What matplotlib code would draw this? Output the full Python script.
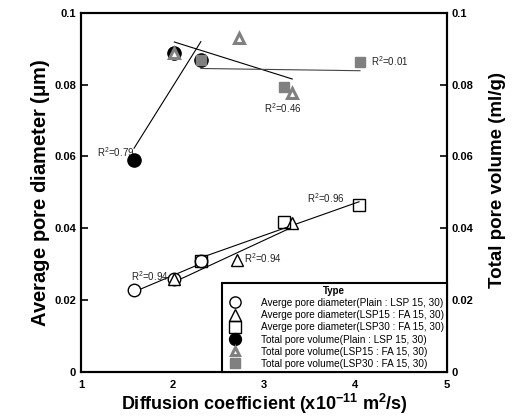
import numpy as np
import matplotlib.pyplot as plt

plt.rcParams['font.family'] = ['Liberation Sans', 'DejaVu Sans']

# diffusion coefficient (x10^-11 m2/s) and pore data
x_plain = [1.58, 2.02, 2.31]
x_lsp15 = [2.02, 2.71, 3.31]
x_lsp30 = [2.31, 3.22, 4.04]

apd_plain = [0.0228, 0.0258, 0.0309]
apd_lsp15 = [0.0260, 0.0312, 0.0414]
apd_lsp30 = [0.0310, 0.0417, 0.0465]

xv_lsp15 = [2.02, 2.73, 3.31]
xv_lsp30 = [2.31, 3.22, 4.05]
tpv_plain = [0.0589, 0.0888, 0.0868]
tpv_lsp15 = [0.0888, 0.0931, 0.0778]
tpv_lsp30 = [0.0868, 0.0794, 0.0864]

labels = ['Averge pore diameter(Plain : LSP 15, 30)',
          'Averge pore diameter(LSP15 : FA 15, 30)',
          'Averge pore diameter(LSP30 : FA 15, 30)',
          'Total pore volume(Plain : LSP 15, 30)',
          'Total pore volume(LSP15 : FA 15, 30)',
          'Total pore volume(LSP30 : FA 15, 30)']

fig = plt.figure(figsize=(5.13, 4.16), dpi=100)
ax = fig.add_axes([0.158, 0.106, 0.713, 0.863])
ax2 = ax.twinx()


def fit(a, xs, ys, color='black'):
    k, b = np.polyfit(xs, ys, 1)
    xx = np.array([min(xs), max(xs)])
    a.plot(xx, k * xx + b, color=color, lw=0.8, zorder=1)


fit(ax, x_plain, apd_plain)
fit(ax, x_lsp15, apd_lsp15)
fit(ax, x_lsp30, apd_lsp30)
fit(ax2, x_plain, tpv_plain)
fit(ax2, xv_lsp15, tpv_lsp15)
fit(ax2, xv_lsp30, tpv_lsp30, color='#444444')

h1, = ax.plot(x_plain, apd_plain, 'o', ms=9, mfc='white', mec='black', mew=1, ls='none', zorder=3)
h2, = ax.plot(x_lsp15, apd_lsp15, '^', ms=9, mfc='white', mec='black', mew=1, ls='none', zorder=4)
h3, = ax.plot(x_lsp30, apd_lsp30, 's', ms=9, mfc='none', mec='black', mew=1, ls='none', zorder=5)
h4, = ax2.plot(x_plain, tpv_plain, 'o', ms=9.5, color='black', ls='none', zorder=3)
h5, = ax2.plot(xv_lsp15, tpv_lsp15, '^', ms=7, mfc='white', mec='#808080', mew=2.2,
               ls='none', zorder=4)
h6, = ax2.plot(xv_lsp30, tpv_lsp30, 's', ms=7.5, color='#808080', ls='none', zorder=5)

for a in (ax, ax2):
    a.set_xlim(1, 5)
    a.set_ylim(0, 0.1)
    a.set_yticks([0, 0.02, 0.04, 0.06, 0.08, 0.1])
    a.set_yticklabels(['0', '0.02', '0.04', '0.06', '0.08', '0.1'])
    for s in a.spines.values():
        s.set_linewidth(1.5)

ax.set_xticks([1, 2, 3, 4, 5])
ax.tick_params(axis='x', length=0, pad=6, labelsize=8)
ax.tick_params(axis='y', direction='in', length=5, width=1.2, labelsize=8)
ax2.tick_params(axis='y', direction='in', length=5, width=1.2, labelsize=8)
for t in ax.get_xticklabels() + ax.get_yticklabels() + ax2.get_yticklabels():
    t.set_fontweight('bold')

ax.set_xlabel('Diffusion coefficient (x10$^{\\mathregular{-11}}$ m$^{\\mathregular{2}}$/s)',
              fontsize=13, fontweight='bold', labelpad=1)
ax.set_ylabel('Average pore diameter ($\\mathregular{\\mu}$m)', fontsize=14.5, fontweight='bold', labelpad=2)
ax2.set_ylabel('Total pore volume (ml/g)', fontsize=13.5, fontweight='bold')
ax2.yaxis.set_label_coords(1.115, 0.535)

tk = dict(fontsize=7, color='#222222')
ax.text(1.58, 0.0612, 'R$^{\\mathregular{2}}$=0.79', ha='right', va='center', **tk)
ax.text(4.17, 0.0865, 'R$^{\\mathregular{2}}$=0.01', ha='left', va='center', **tk)
ax.text(3.21, 0.0735, 'R$^{\\mathregular{2}}$=0.46', ha='center', va='center', **tk)
ax.text(3.88, 0.0485, 'R$^{\\mathregular{2}}$=0.96', ha='right', va='center', **tk)
ax.text(2.78, 0.0318, 'R$^{\\mathregular{2}}$=0.94', ha='left', va='center', **tk)
ax.text(1.75, 0.0267, 'R$^{\\mathregular{2}}$=0.94', ha='center', va='center', **tk)

leg = ax2.legend([h1, h2, h3, h4, h5, h6], labels, loc='lower right',
                 bbox_to_anchor=(1.0, 0.0), fontsize=7.2, title='Type',
                 frameon=True, fancybox=False, framealpha=1, edgecolor='black',
                 borderpad=0.3, labelspacing=0.22, handletextpad=1.6, handlelength=2.0,
                 borderaxespad=0, markerscale=0.9)
leg.get_title().set_fontweight('bold')
leg.get_title().set_fontsize(7)
leg.get_frame().set_linewidth(1.5)
leg.set_zorder(10)

fig.savefig('out.png', dpi=100)
